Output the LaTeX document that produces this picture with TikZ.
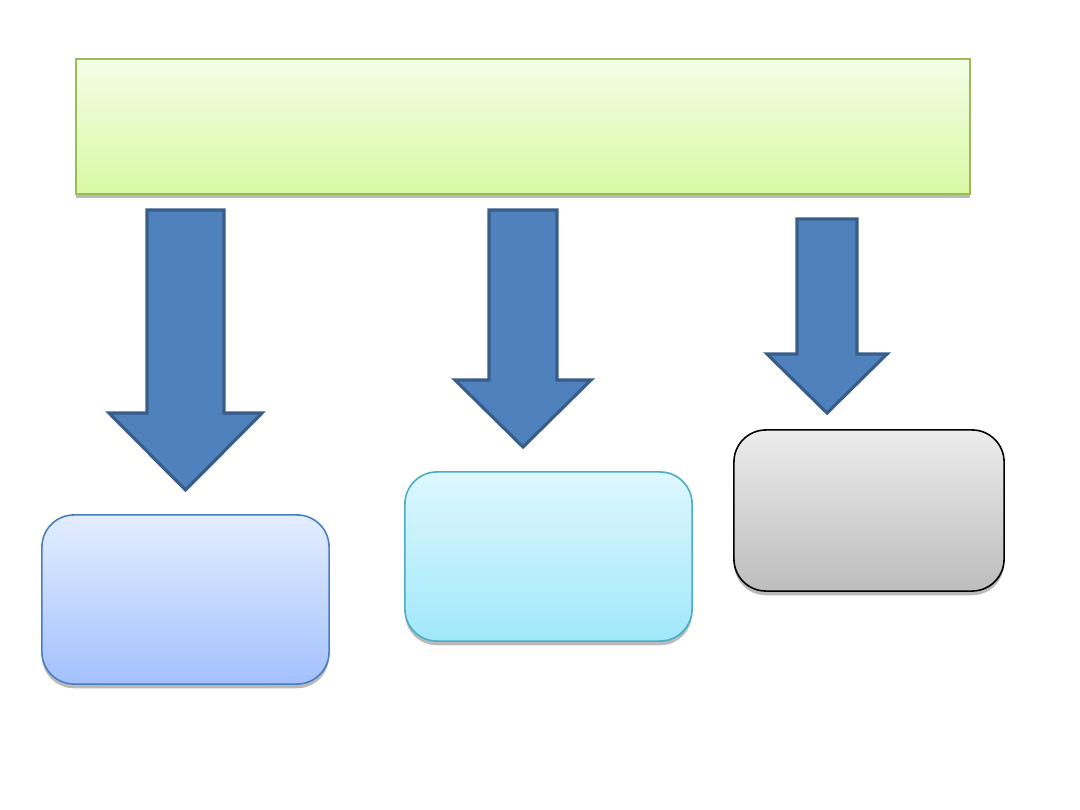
\documentclass[tikz,border=0pt]{standalone}
\usepackage{xcolor}
\usetikzlibrary{shadows}

\definecolor{limeTop}{HTML}{F4FDE6}
\definecolor{limeBot}{HTML}{D8F9A4}
\definecolor{limeLine}{HTML}{9BBB59}
\definecolor{arrowFill}{HTML}{4F81BD}
\definecolor{arrowLine}{HTML}{385D8A}
\definecolor{blueTop}{HTML}{E3EDFF}
\definecolor{blueBot}{HTML}{A3C1FF}
\definecolor{blueLine}{HTML}{4A7EBB}
\definecolor{aquaTop}{HTML}{DEF7FE}
\definecolor{aquaBot}{HTML}{A1E8FB}
\definecolor{aquaLine}{HTML}{4BACC6}
\definecolor{greyTop}{HTML}{ECECEC}
\definecolor{greyBot}{HTML}{BDBDBD}

\begin{document}
\begin{tikzpicture}[x=0.01cm, y=-0.01cm,
    soft/.style={drop shadow={shadow xshift=0pt, shadow yshift=-1.2pt, opacity=0.45, fill=black!60}},
    banner/.style={draw=limeLine, line width=0.6pt, top color=limeTop, bottom color=limeBot,
                   minimum width=8.94cm, minimum height=1.35cm, inner sep=0pt, soft},
    card/.style={rounded corners=0.32cm, line width=0.45pt, minimum width=2.87cm,
                 minimum height=1.69cm, inner sep=0pt, soft},
    downarrow/.style={fill=arrowFill, draw=arrowLine, line width=0.9pt, line join=miter}
]
    \useasboundingbox (0,0) rectangle (1080,810);

    \node[banner] (top) at (523,126.5) {};

    \node[card, draw=blueLine, top color=blueTop, bottom color=blueBot] (left) at (185.5,599.5) {};
    \node[card, draw=aquaLine, top color=aquaTop, bottom color=aquaBot] (middle) at (548.5,556.5) {};
    \node[card, draw=black, top color=greyTop, bottom color=greyBot,
          minimum width=2.70cm, minimum height=1.61cm] (right) at (869,510.5) {};

    % block arrows from the banner down to each card
    \filldraw[downarrow] (147,210) -- (224,210) -- (224,413) -- (262,413)
        -- (185.5,490) -- (109,413) -- (147,413) -- cycle;
    \filldraw[downarrow] (489,210) -- (557,210) -- (557,380) -- (591,380)
        -- (523,447) -- (455,380) -- (489,380) -- cycle;
    \filldraw[downarrow] (797,219) -- (857,219) -- (857,354) -- (887,354)
        -- (827,413) -- (767,354) -- (797,354) -- cycle;
\end{tikzpicture}
\end{document}
